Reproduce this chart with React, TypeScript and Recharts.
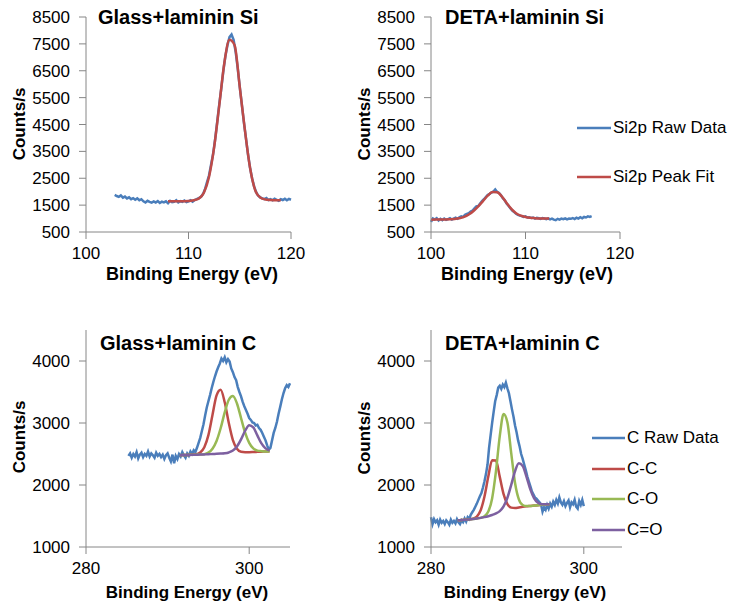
import { LineChart, Line, XAxis, YAxis, Legend } from 'recharts';

const FONT = '"Liberation Sans", Arial, sans-serif';
const AXIS_GREY = '#868686';
const BLUE = '#4A7EBB';
const RED = '#BE4B48';
const GREEN = '#98B954';
const PURPLE = '#7D60A0';

// axis ticks
const siTicksX = [100, 110, 120];
const siTicksY = [500, 1500, 2500, 3500, 4500, 5500, 6500, 7500, 8500];
const cTicksX = [280, 300];
const cTicksY = [1000, 2000, 3000, 4000];

// energy grids (start, step) of the recorded scans and of the fitted curves
const RAW_STEP = 0.2;
const FIT_STEP = 0.5;

// Glass+laminin Si
const glassSiRawStart = 102.8;
const glassSiRaw = [
  1880, 1840, 1810, 1860, 1780, 1820, 1750, 1790, 1720, 1760, 1700,
  1750, 1680, 1720, 1640, 1600, 1660, 1620, 1590, 1640, 1600,
  1650, 1580, 1630, 1600, 1640, 1570, 1660, 1610, 1620, 1680,
  1600, 1650, 1620, 1670, 1610, 1640, 1680, 1630, 1690, 1720,
  1760, 1800, 1900, 2080, 2350, 2600, 3000, 3400, 3950, 4600,
  5250, 5850, 6500, 7050, 7450, 7750, 7850, 7650, 7200, 6600,
  5900, 5250, 4600, 4000, 3400, 2900, 2500, 2200, 1980, 1850,
  1790, 1750, 1720, 1760, 1690, 1720, 1680, 1740, 1700, 1660,
  1720, 1690, 1740, 1680, 1730, 1700,
];
const glassSiFitStart = 108;
const glassSiFit = [
  1640, 1640, 1642, 1645, 1652, 1680, 1740, 1960, 2550, 3650, 5200, 6800,
  7650, 7450, 5900, 4300, 2900, 2060, 1780, 1710, 1690, 1680, 1680,
];

// DETA+laminin Si
const detaSiRawStart = 100;
const detaSiRaw = [
  880, 1000, 960, 1010, 930, 990, 940, 1000, 950, 980,
  1010, 960, 1000, 1030, 990, 1050, 1080, 1060, 1140, 1170,
  1200, 1260, 1300, 1380, 1450, 1470, 1560, 1650, 1720, 1800,
  1880, 1920, 1970, 2000, 2080, 1990, 1950, 1870, 1760, 1680,
  1560, 1480, 1380, 1300, 1240, 1180, 1140, 1110, 1090, 1060,
  1080, 1040, 1050, 1020, 1040, 1000, 1030, 1010, 990, 1020,
  1000, 980, 1010, 970, 1000, 960, 940, 990, 960, 1000,
  980, 1010, 970, 1000, 990, 1020, 980, 1030, 1000, 1050,
  1010, 1060, 1040, 1080, 1060, 1090,
];
const detaSiFitStart = 100;
const detaSiFit = [
  960, 962, 965, 968, 975, 985, 1010, 1060, 1150, 1280, 1450, 1650, 1850,
  1990, 1980, 1820, 1580, 1360, 1200, 1110, 1060, 1030, 1015, 1005, 1000, 1000,
];

// Glass+laminin C
const glassCRawStart = 285.2;
const glassCRaw = [
  2470, 2510, 2440, 2500, 2460, 2530, 2430, 2490, 2520, 2450,
  2500, 2470, 2540, 2460, 2510, 2480, 2440, 2520, 2470, 2500,
  2450, 2490, 2420, 2480, 2510, 2440, 2380, 2490, 2350, 2470,
  2420, 2500, 2460, 2530, 2480, 2440, 2510, 2470, 2540, 2500,
  2560, 2530, 2600, 2680, 2760, 2870, 2980, 3120, 3250, 3350,
  3450, 3560, 3660, 3750, 3830, 3900, 3960, 4040, 4000, 4060,
  3980, 4030, 3990, 3880, 3820, 3740, 3690, 3580, 3500, 3430,
  3340, 3270, 3210, 3150, 3080, 3050, 3010, 3000, 2960, 2970,
  2920, 2890, 2840, 2780, 2720, 2640, 2570, 2600, 2720, 2840,
  2920, 3020, 3150, 3260, 3380, 3480, 3560, 3610, 3580, 3640,
];
const glassCFitStart = 291.5;
const glassCC = [
  2480, 2482, 2485, 2490, 2495, 2525, 2610, 2805, 3130, 3445, 3535, 3335,
  3000, 2725, 2585, 2535, 2530, 2530, 2532, 2535, 2538, 2540, 2545,
];
const glassCO = [
  2480, 2482, 2485, 2488, 2490, 2492, 2498, 2522, 2585, 2710, 2915, 3170,
  3375, 3435, 3315, 3080, 2845, 2680, 2590, 2555, 2545, 2540, 2540,
];
const glassCdO = [
  2480, 2482, 2484, 2486, 2488, 2490, 2493, 2496, 2500, 2503, 2507, 2512,
  2525, 2555, 2620, 2735, 2875, 2965, 2930, 2800, 2670, 2590, 2555,
];

// DETA+laminin C
const detaCRawStart = 280;
const detaCRaw = [
  1480, 1370, 1450, 1400, 1430, 1360, 1440, 1390, 1420, 1370,
  1430, 1400, 1360, 1440, 1390, 1420, 1380, 1450, 1400, 1370,
  1430, 1400, 1460, 1410, 1480, 1450, 1520, 1560, 1600, 1650,
  1700, 1760, 1820, 1870, 1960, 2060, 2180, 2330, 2600, 2800,
  3000, 3180, 3350, 3450, 3570, 3600, 3550, 3620, 3580, 3650,
  3560, 3480, 3350, 3220, 3100, 2960, 2850, 2720, 2620, 2500,
  2420, 2330, 2240, 2140, 2060, 1980, 1900, 1850, 1800, 1780,
  1750, 1720, 1690, 1570, 1640, 1600, 1680, 1620, 1700, 1650,
  1730, 1680, 1760, 1700, 1800, 1720, 1680, 1740, 1660, 1710,
  1750, 1640, 1720, 1690, 1760, 1650, 1620, 1740, 1680, 1760,
  1660,
];
const detaCFitStart = 283.5;
const detaCC = [
  1430, 1435, 1440, 1445, 1458, 1491, 1592, 1814, 2136, 2400, 2395, 2131,
  1853, 1690, 1635, 1628, 1638, 1648, 1656, 1662, 1668, 1674, 1680, 1686, 1690,
];
const detaCO = [
  1430, 1435, 1440, 1445, 1452, 1460, 1470, 1497, 1572, 1784, 2219, 2787,
  3144, 3009, 2514, 2032, 1768, 1677, 1660, 1662, 1668, 1674, 1680, 1686, 1690,
];
const detaCdO = [
  1430, 1435, 1440, 1445, 1452, 1460, 1470, 1482, 1497, 1516, 1541, 1579,
  1654, 1794, 2002, 2222, 2349, 2308, 2133, 1930, 1785, 1714, 1691, 1688, 1690,
];

type Row = { x: number; y: number };
const toRows = (start: number, step: number, values: number[]): Row[] =>
  values.map((v, i) => ({ x: Math.round((start + i * step) * 100) / 100, y: v }));

type Series = { name: string; rows: Row[]; color: string; smooth?: boolean };

function AxisTitle({ cx, cy, caption, size, vertical }: any) {
  return (
    <text
      x={cx}
      y={cy}
      transform={vertical ? `rotate(-90 ${cx} ${cy})` : undefined}
      textAnchor="middle"
      fontFamily={FONT}
      fontSize={size}
      fontWeight="bold"
      fill="#000"
    >
      {caption}
    </text>
  );
}

// legend keeps the order the series were drawn in
function SeriesKey({ payload, gap, lineLen, order }: any) {
  const items = [...(payload || [])].sort(
    (a: any, b: any) => order.indexOf(a.value) - order.indexOf(b.value)
  );
  return (
    <div style={{ fontFamily: FONT, fontSize: 17, color: '#000' }}>
      {items.map((p: any) => (
        <div key={p.value} style={{ display: 'flex', alignItems: 'center', height: gap, whiteSpace: 'nowrap' }}>
          <svg width={lineLen} height={6} style={{ display: 'block' }}>
            <line x1={0} y1={3} x2={lineLen} y2={3} stroke={p.color} strokeWidth={2.5} />
          </svg>
          <span style={{ marginLeft: 2 }}>{p.value}</span>
        </div>
      ))}
    </div>
  );
}

type PanelProps = {
  left: number; top: number; width: number; height: number;
  marginTop: number; marginRight: number; yWidth: number; xHeight: number;
  xDomain: number[]; xTicks: number[]; yDomain: number[]; yTicks: number[];
  series: Series[];
  xTitle: { cx: number; cy: number; size: number };
  yTitle: { cx: number; cy: number };
  legend?: { left: number; top: number; gap: number; lineLen: number };
};

function Panel(p: PanelProps) {
  const tick = { fontSize: 17, fill: '#000', fontFamily: FONT };
  const order = p.series.map((s) => s.name);
  return (
    <div style={{ position: 'absolute', left: p.left, top: p.top }}>
      <LineChart
        width={p.width}
        height={p.height}
        margin={{ top: p.marginTop, right: p.marginRight, left: 0, bottom: 0 }}
        style={{ fontFamily: FONT }}
      >
        <XAxis
          dataKey="x"
          type="number"
          domain={p.xDomain}
          ticks={p.xTicks}
          interval={0}
          height={p.xHeight}
          tick={tick}
          tickSize={7}
          tickMargin={8}
          axisLine={{ stroke: AXIS_GREY }}
          tickLine={{ stroke: AXIS_GREY }}
          label={<AxisTitle cx={p.xTitle.cx} cy={p.xTitle.cy} size={p.xTitle.size} caption="Binding Energy (eV)" />}
        />
        <YAxis
          type="number"
          domain={p.yDomain}
          ticks={p.yTicks}
          interval={0}
          width={p.yWidth}
          tick={tick}
          tickSize={7}
          tickMargin={9}
          axisLine={{ stroke: AXIS_GREY }}
          tickLine={{ stroke: AXIS_GREY }}
          label={<AxisTitle cx={p.yTitle.cx} cy={p.yTitle.cy} size={17} vertical caption="Counts/s" />}
        />
        {p.legend && (
          <Legend
            layout="vertical"
            align="center"
            verticalAlign="middle"
            itemSorter={(item: any) => order.indexOf(item.value)}
            wrapperStyle={{ left: p.legend.left, top: p.legend.top, width: 'auto' }}
            content={<SeriesKey gap={p.legend.gap} lineLen={p.legend.lineLen} order={order} />}
          />
        )}
        {p.series.map((s) => (
          <Line
            key={s.name}
            name={s.name}
            data={s.rows}
            dataKey="y"
            type={s.smooth ? 'monotone' : 'linear'}
            stroke={s.color}
            strokeWidth={2.5}
            dot={false}
            activeDot={false}
            isAnimationActive={false}
          />
        ))}
      </LineChart>
    </div>
  );
}

function Title({ left, top, text }: { left: number; top: number; text: string }) {
  return (
    <div
      style={{
        position: 'absolute', left, top, fontFamily: FONT, fontSize: 20, fontWeight: 'bold',
        lineHeight: '20px', whiteSpace: 'nowrap', color: '#000',
      }}
    >
      {text}
    </div>
  );
}

export default function App() {
  const glassSi: Series[] = [
    { name: 'Si2p Raw Data', rows: toRows(glassSiRawStart, RAW_STEP, glassSiRaw), color: BLUE },
    { name: 'Si2p Peak Fit', rows: toRows(glassSiFitStart, FIT_STEP, glassSiFit), color: RED, smooth: true },
  ];
  const detaSi: Series[] = [
    { name: 'Si2p Raw Data', rows: toRows(detaSiRawStart, RAW_STEP, detaSiRaw), color: BLUE },
    { name: 'Si2p Peak Fit', rows: toRows(detaSiFitStart, FIT_STEP, detaSiFit), color: RED, smooth: true },
  ];
  const glassC: Series[] = [
    { name: 'C Raw Data', rows: toRows(glassCRawStart, RAW_STEP, glassCRaw), color: BLUE },
    { name: 'C-C', rows: toRows(glassCFitStart, FIT_STEP, glassCC), color: RED, smooth: true },
    { name: 'C-O', rows: toRows(glassCFitStart, FIT_STEP, glassCO), color: GREEN, smooth: true },
    { name: 'C=O', rows: toRows(glassCFitStart, FIT_STEP, glassCdO), color: PURPLE, smooth: true },
  ];
  const detaC: Series[] = [
    { name: 'C Raw Data', rows: toRows(detaCRawStart, RAW_STEP, detaCRaw), color: BLUE },
    { name: 'C-C', rows: toRows(detaCFitStart, FIT_STEP, detaCC), color: RED, smooth: true },
    { name: 'C-O', rows: toRows(detaCFitStart, FIT_STEP, detaCO), color: GREEN, smooth: true },
    { name: 'C=O', rows: toRows(detaCFitStart, FIT_STEP, detaCdO), color: PURPLE, smooth: true },
  ];

  return (
    <div style={{ position: 'absolute', left: 0, top: 0, width: 731, height: 607, background: '#fff', overflow: 'hidden' }}>
      <Panel
        left={0} top={0} width={330} height={300}
        marginTop={17} marginRight={39} yWidth={86} xHeight={68}
        xDomain={[100, 120]} xTicks={siTicksX} yDomain={[500, 8500]} yTicks={siTicksY}
        series={glassSi}
        xTitle={{ cx: 192, cy: 280, size: 18 }}
        yTitle={{ cx: 25, cy: 124 }}
      />
      <Panel
        left={330} top={0} width={401} height={300}
        marginTop={17} marginRight={111} yWidth={101} xHeight={68}
        xDomain={[100, 120]} xTicks={siTicksX} yDomain={[500, 8500]} yTicks={siTicksY}
        series={detaSi}
        xTitle={{ cx: 197, cy: 280, size: 18 }}
        yTitle={{ cx: 40, cy: 124 }}
        legend={{ left: 247, top: 128 - 24.5, gap: 49, lineLen: 34 }}
      />
      <Panel
        left={0} top={300} width={330} height={307}
        marginTop={30} marginRight={40} yWidth={86} xHeight={60}
        xDomain={[280, 305]} xTicks={cTicksX} yDomain={[1000, 4500]} yTicks={cTicksY}
        series={glassC}
        xTitle={{ cx: 187, cy: 298, size: 17 }}
        yTitle={{ cx: 25, cy: 137 }}
      />
      <Panel
        left={330} top={300} width={401} height={307}
        marginTop={30} marginRight={109} yWidth={101} xHeight={60}
        xDomain={[280, 305]} xTicks={cTicksX} yDomain={[1000, 4500]} yTicks={cTicksY}
        series={detaC}
        xTitle={{ cx: 195, cy: 298, size: 17 }}
        yTitle={{ cx: 40, cy: 138 }}
        legend={{ left: 262, top: 138 - 15.3, gap: 30.6, lineLen: 33 }}
      />
      <Title left={98} top={7} text="Glass+laminin Si" />
      <Title left={445} top={7} text="DETA+laminin Si" />
      <Title left={100} top={333} text="Glass+laminin C" />
      <Title left={445} top={333} text="DETA+laminin C" />
    </div>
  );
}
